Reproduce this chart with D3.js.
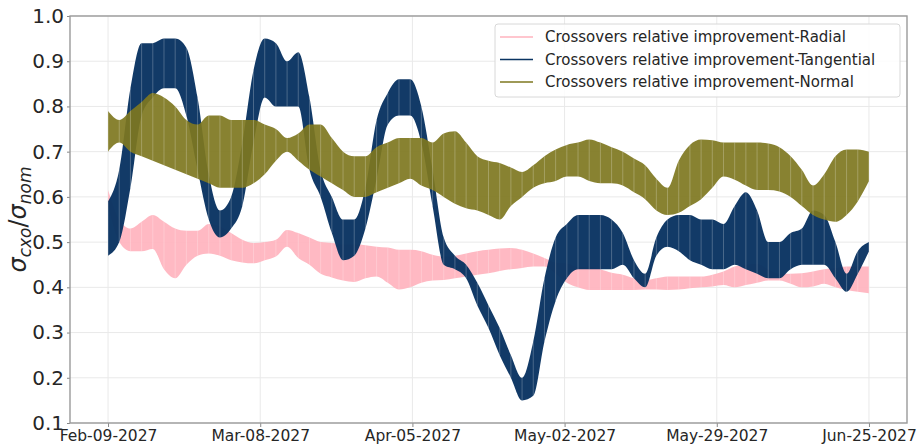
<!DOCTYPE html>
<html>
<head>
<meta charset="utf-8">
<script src="https://cdn.jsdelivr.net/npm/d3@7"></script>
<style>
  body { margin: 0; background: #fff; }
  svg { display: block; font-family: "DejaVu Sans", sans-serif; }
</style>
</head>
<body>
<svg id="chart" width="919" height="447"></svg>
<script>
// sampling grid: every 2 days from Feb-09-2027
var startDate = new Date(Date.UTC(2027, 1, 9));
var endDate = new Date(Date.UTC(2027, 5, 25));
var sampleDays = d3.range(0, 137, 2);

var tickLabels = ["Feb-09-2027", "Mar-08-2027", "Apr-05-2027", "May-02-2027", "May-29-2027", "Jun-25-2027"];
var yTicks = [0.1, 0.2, 0.3, 0.4, 0.5, 0.6, 0.7, 0.8, 0.9, 1.0];

var seriesNames = [
  "Crossovers relative improvement-Radial",
  "Crossovers relative improvement-Tangential",
  "Crossovers relative improvement-Normal"
];
var seriesColors = ["#ffb3be", "#0a3462", "#7e771f"];

// upper / lower envelope of each oscillating series
var radialHi = [
  .615, .55, .53, .545, .56, .545, .53, .525, .525, .54,
  .535, .52, .505, .498, .50, .505, .527, .52, .51, .50,
  .498, .495, .495, .493, .49, .488, .483, .483, .48, .472,
  .468, .47, .475, .48, .483, .486, .487, .483, .475, .465,
  .455, .453, .445, .446, .44, .432, .428, .42, .416, .42,
  .424, .424, .424, .424, .428, .435, .446, .45, .452, .44,
  .43, .43, .431, .435, .44, .443, .446, .446, .446];
var radialLo = [
  .58, .50, .48, .48, .485, .44, .42, .45, .47, .475,
  .47, .46, .455, .453, .46, .468, .49, .465, .45, .43,
  .422, .415, .412, .42, .424, .41, .395, .40, .41, .415,
  .416, .42, .424, .428, .431, .436, .44, .443, .446, .446,
  .43, .41, .40, .394, .394, .394, .394, .394, .395, .395,
  .394, .395, .398, .40, .402, .405, .40, .405, .41, .415,
  .415, .408, .40, .402, .408, .40, .394, .39, .387];

var tangHi = [
  .59, .66, .84, .94, .94, .95, .95, .93, .82, .65,
  .57, .60, .72, .88, .95, .94, .90, .92, .82, .66,
  .60, .55, .55, .62, .77, .83, .86, .86, .80, .66,
  .51, .47, .45, .41, .36, .31, .25, .20, .28, .42,
  .51, .54, .56, .56, .56, .55, .52, .46, .43, .51,
  .55, .56, .56, .55, .55, .54, .58, .61, .57, .50,
  .50, .52, .53, .57, .56, .50, .43, .48, .50];
var tangLo = [
  .47, .50, .62, .78, .82, .84, .84, .78, .66, .55,
  .51, .53, .58, .72, .82, .80, .80, .80, .66, .60,
  .52, .46, .47, .53, .64, .76, .78, .78, .72, .58,
  .45, .44, .42, .36, .31, .25, .20, .15, .16, .28,
  .37, .42, .44, .44, .44, .44, .45, .42, .40, .47,
  .49, .48, .46, .45, .44, .44, .45, .44, .43, .42,
  .42, .44, .45, .45, .45, .42, .39, .43, .48];

var normHi = [
  .79, .77, .79, .81, .83, .82, .80, .77, .76, .78,
  .78, .77, .77, .77, .76, .75, .73, .74, .76, .76,
  .73, .70, .69, .69, .71, .72, .73, .73, .73, .72,
  .74, .745, .72, .69, .68, .675, .665, .655, .67, .69,
  .705, .715, .72, .727, .72, .71, .70, .685, .67, .64,
  .62, .68, .715, .727, .725, .72, .72, .72, .72, .718,
  .71, .69, .66, .625, .65, .69, .705, .705, .70];
var normLo = [
  .70, .72, .70, .69, .68, .67, .66, .65, .64, .63,
  .62, .62, .62, .63, .65, .68, .70, .68, .66, .645,
  .63, .615, .60, .60, .61, .62, .63, .64, .625, .615,
  .60, .585, .575, .57, .56, .55, .58, .60, .62, .63,
  .635, .645, .645, .635, .63, .63, .625, .61, .595, .57,
  .56, .565, .58, .595, .62, .645, .638, .625, .615, .615,
  .612, .60, .58, .56, .55, .545, .56, .59, .635];

var seriesHi = [radialHi, tangHi, normHi];
var seriesLo = [radialLo, tangLo, normLo];
var fillOpacity = [0.92, 0.97, 0.92];

var svg = d3.select("#chart"),
  WIDTH = 919,
  HEIGHT = 447,
  MARGINS = { top: 16, right: 12, bottom: 24, left: 70 };

var pad = 6.8 * 864e5;
var x = d3.scaleUtc()
  .domain([new Date(+startDate - pad), new Date(+endDate + pad)])
  .range([MARGINS.left, WIDTH - MARGINS.right]);
var y = d3.scaleLinear()
  .domain([0.1, 1.0])
  .range([HEIGHT - MARGINS.bottom, MARGINS.top]);

var tickDates = tickLabels.map(function (d, i) {
  return new Date(+startDate + (endDate - startDate) * i / (tickLabels.length - 1));
});
var dates = sampleDays.map(function (d) { return d3.utcDay.offset(startDate, d); });

// grid
svg.append("g").selectAll("line").data(yTicks).join("line")
  .attr("x1", MARGINS.left).attr("x2", WIDTH - MARGINS.right)
  .attr("y1", function (d) { return y(d); }).attr("y2", function (d) { return y(d); })
  .attr("stroke", "#e9e9e9").attr("stroke-width", 1);
svg.append("g").selectAll("line").data(tickDates).join("line")
  .attr("x1", function (d) { return x(d); }).attr("x2", function (d) { return x(d); })
  .attr("y1", MARGINS.top).attr("y2", HEIGHT - MARGINS.bottom)
  .attr("stroke", "#e9e9e9").attr("stroke-width", 1);

svg.append("clipPath").attr("id", "clip").append("rect")
  .attr("x", MARGINS.left).attr("y", MARGINS.top)
  .attr("width", WIDTH - MARGINS.right - MARGINS.left)
  .attr("height", HEIGHT - MARGINS.bottom - MARGINS.top);

var plot = svg.append("g").attr("clip-path", "url(#clip)");

var areaFunc = d3.area()
  .curve(d3.curveMonotoneX)
  .x(function (d) { return x(d.t); })
  .y0(function (d) { return y(d.lo); })
  .y1(function (d) { return y(d.hi); });

seriesNames.forEach(function (name, s) {
  var pts = dates.map(function (t, i) {
    return { t: t, hi: seriesHi[s][i], lo: seriesLo[s][i] };
  });
  var g = plot.append("g");
  g.append("path")
    .attr("d", areaFunc(pts))
    .attr("fill", seriesColors[s])
    .attr("fill-opacity", fillOpacity[s]);
  // light hatch strokes at every sample
  g.selectAll("line").data(pts).join("line")
    .attr("x1", function (d) { return x(d.t); })
    .attr("x2", function (d) { return x(d.t); })
    .attr("y1", function (d) { return y(d.lo); })
    .attr("y2", function (d) { return y(d.hi); })
    .attr("stroke", "#fff")
    .attr("stroke-opacity", 0.3)
    .attr("stroke-width", 0.8);
});

// axes
var xAxis = svg.append("g")
  .attr("transform", "translate(0," + (HEIGHT - MARGINS.bottom) + ")")
  .call(d3.axisBottom(x).tickValues(tickDates)
    .tickFormat(function (d, i) { return tickLabels[i]; })
    .tickSize(4).tickPadding(3))
  .call(function (g) { g.select(".domain").remove(); });
xAxis.selectAll("text").attr("font-size", 15.5).attr("fill", "#262626")
  .attr("font-family", "DejaVu Sans");
xAxis.selectAll("line").attr("stroke", "#888");

var yAxis = svg.append("g")
  .attr("transform", "translate(" + MARGINS.left + ",0)")
  .call(d3.axisLeft(y).tickValues(yTicks).tickFormat(d3.format(".1f"))
    .tickSize(3).tickPadding(3))
  .call(function (g) { g.select(".domain").remove(); });
yAxis.selectAll("text").attr("font-size", 20).attr("fill", "#262626")
  .attr("font-family", "DejaVu Sans");
yAxis.selectAll("line").attr("stroke", "#888");

// frame
svg.append("rect")
  .attr("x", MARGINS.left).attr("y", MARGINS.top)
  .attr("width", WIDTH - MARGINS.right - MARGINS.left)
  .attr("height", HEIGHT - MARGINS.bottom - MARGINS.top)
  .attr("fill", "none").attr("stroke", "#9a9a9a").attr("stroke-width", 1.4);

// y label
var yl = svg.append("text")
  .attr("transform", "translate(26," + ((MARGINS.top + HEIGHT - MARGINS.bottom) / 2) + ") rotate(-90)")
  .attr("text-anchor", "middle")
  .attr("font-size", 24).attr("fill", "#262626");
yl.append("tspan").attr("font-style", "italic").text("σ");
yl.append("tspan").attr("font-style", "italic").attr("font-size", 17).attr("dy", 5).text("cxo");
yl.append("tspan").attr("dy", -5).text("/");
yl.append("tspan").attr("font-style", "italic").text("σ");
yl.append("tspan").attr("font-style", "italic").attr("font-size", 17).attr("dy", 5).text("nom");

// legend
var lg = svg.append("g").attr("transform", "translate(495,24)");
lg.append("rect")
  .attr("width", 405).attr("height", 73).attr("rx", 3)
  .attr("fill", "#fff").attr("fill-opacity", 0.85)
  .attr("stroke", "#d8d8d8").attr("stroke-width", 1);
seriesNames.forEach(function (name, i) {
  var row = lg.append("g").attr("transform", "translate(0," + (13 + i * 22.5) + ")");
  row.append("line").attr("x1", 5).attr("x2", 38)
    .attr("stroke", seriesColors[i]).attr("stroke-width", 1.5);
  row.append("text").attr("x", 50).attr("dy", "0.35em")
    .attr("font-size", 15).attr("fill", "#262626").text(name);
});
</script>
</body>
</html>
